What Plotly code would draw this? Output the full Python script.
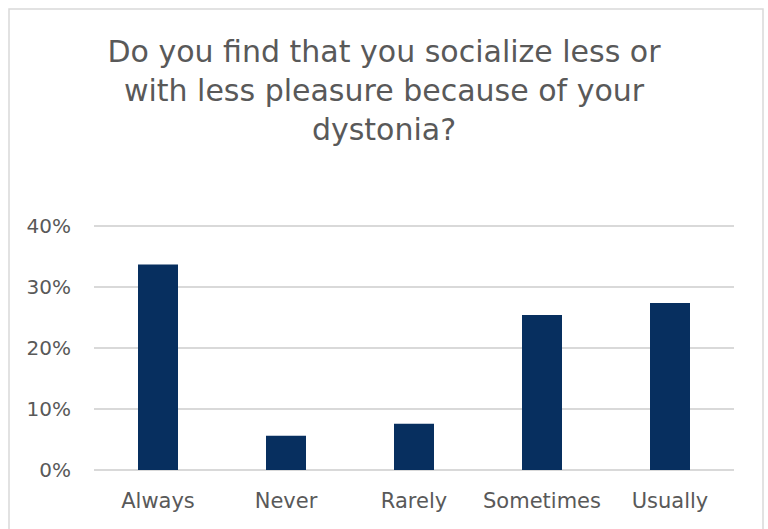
import plotly.graph_objects as go

# Survey responses: share of respondents per answer
categories = ["Always", "Never", "Rarely", "Sometimes", "Usually"]
shares = [0.337, 0.056, 0.076, 0.254, 0.274]
y_ticks = [0, 0.1, 0.2, 0.3, 0.4]
y_tick_labels = ["0%", "10%", "20%", "30%", "40%"]

title_text = ("Do you find that you socialize less or<br>"
              "with less pleasure because of your<br>dystonia?")

TEXT = "#595959"
GRID = "#d9d9d9"
BAR = "#072f5f"
FONT = "DejaVu Sans"

fig = go.Figure(
    go.Bar(
        x=categories,
        y=shares,
        marker=dict(color=BAR, line=dict(width=0)),
        width=0.3125,
        hoverinfo="skip",
    )
)

W, H = 768, 529
L, R, T, B = 94, 34, 220, 59
pw, ph = W - L - R, H - T - B

def px_to_paper_x(px):
    return (px - L) / pw

def px_to_paper_y(py):
    return (H - B - py) / ph

# light frame around the whole chart
fig.add_shape(
    type="rect", xref="paper", yref="paper",
    x0=px_to_paper_x(9), x1=px_to_paper_x(763),
    y0=px_to_paper_y(545), y1=px_to_paper_y(9),
    line=dict(color=GRID, width=1.5), fillcolor="rgba(0,0,0,0)",
    layer="below",
)

fig.update_layout(
    width=W, height=H,
    margin=dict(l=L, r=R, t=T, b=B),
    paper_bgcolor="white",
    plot_bgcolor="white",
    showlegend=False,
    font=dict(family=FONT, color=TEXT),
    title=dict(
        text=title_text,
        x=0.5, xref="container", xanchor="center",
        y=1 - 62 / H, yref="container", yanchor="top",
        font=dict(family=FONT, size=30, color=TEXT),
    ),
    xaxis=dict(
        showgrid=False, showline=False, zeroline=False,
        ticks="", tickfont=dict(size=21, color=TEXT),
        ticklabelstandoff=16,
    ),
    yaxis=dict(
        range=[0, 0.41],
        tickvals=y_ticks, ticktext=y_tick_labels,
        showgrid=True, gridcolor=GRID, gridwidth=1.5,
        zeroline=True, zerolinecolor=GRID, zerolinewidth=1.5,
        showline=False, ticks="",
        tickfont=dict(size=20, color=TEXT),
        ticklabelstandoff=22,
    ),
)

fig.write_html("out.html")
